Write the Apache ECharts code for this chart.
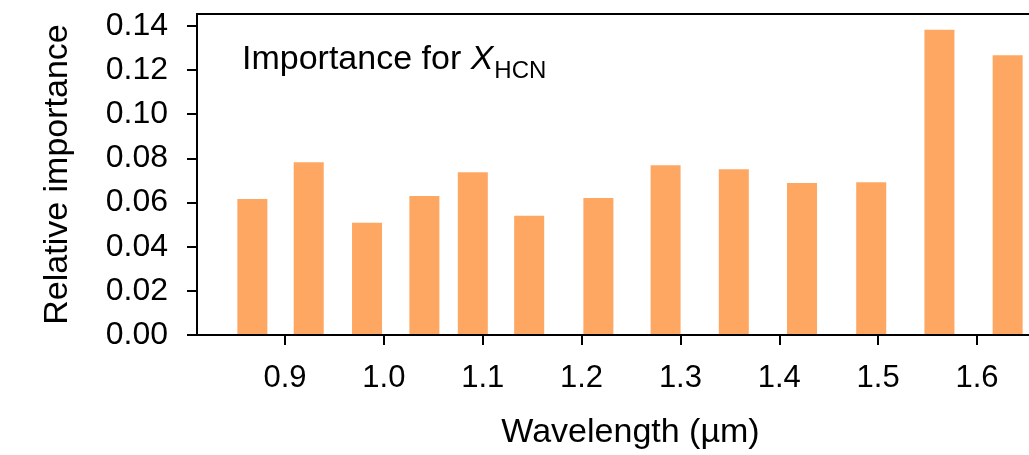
<!DOCTYPE html>
<html>
<head>
<meta charset="utf-8">
<script src="https://cdn.jsdelivr.net/npm/echarts@6/dist/echarts.min.js"></script>
<style>
  html, body { margin: 0; padding: 0; background: #fff; overflow: hidden; width: 1029px; height: 455px; }
  /* the axes box runs past the right edge of the page, so the canvas is wider than the window */
  #chart { width: 1080px; height: 455px; }
</style>
</head>
<body>
<div id="chart"></div>
<script>
// Spectral bin centres (µm) and the relative importance of each bin
const wavelengths = [0.867, 0.924, 0.983, 1.041, 1.090, 1.147, 1.217, 1.285, 1.354, 1.423, 1.493, 1.562, 1.631];
const importance  = [0.0616, 0.0782, 0.0508, 0.0630, 0.0737, 0.0540, 0.0621, 0.0769, 0.0751, 0.0688, 0.0692, 0.1383, 0.1267];

// Tick values for both axes
const xTicks = [0.9, 1.0, 1.1, 1.2, 1.3, 1.4, 1.5, 1.6];
const yTicks = [0.00, 0.02, 0.04, 0.06, 0.08, 0.10, 0.12, 0.14];

const FONT = '"Liberation Sans", Arial, Helvetica, sans-serif';
const INK = '#000000';
const BAR = '#fea762';

const chart = echarts.init(document.getElementById('chart'), null, { renderer: 'canvas' });

const axisLineStyle = { color: INK, width: 2 };

chart.setOption({
  animation: false,
  backgroundColor: '#ffffff',
  title: {
    left: 237,
    top: 38,
    text: '{a|Importance for }{x|X}{s|HCN}',
    textStyle: {
      fontWeight: 'normal',
      rich: {
        a: { fontFamily: FONT, fontSize: 34, fontWeight: 'normal', color: INK, lineHeight: 40, verticalAlign: 'top' },
        x: { fontFamily: FONT, fontSize: 34, fontWeight: 'normal', fontStyle: 'italic', color: INK, lineHeight: 40, verticalAlign: 'top' },
        s: { fontFamily: FONT, fontSize: 24, fontWeight: 'normal', color: INK, lineHeight: 24, verticalAlign: 'bottom', padding: [20, 0, 0, 1] }
      }
    }
  },
  grid: { left: 197, top: 14, width: 867, height: 324.5, containLabel: false },
  xAxis: [
    {
      type: 'value',
      position: 'bottom',
      min: 0.811,
      max: 1.688,
      z: 5,
      name: 'Wavelength (µm)',
      nameLocation: 'middle',
      nameGap: 81,
      nameTextStyle: { fontFamily: FONT, fontSize: 34, color: INK },
      splitLine: { show: false },
      axisLine: { show: true, onZero: false, lineStyle: axisLineStyle },
      axisTick: { show: true, inside: false, length: 10, lineStyle: { color: INK, width: 2 }, customValues: xTicks },
      axisLabel: {
        show: true, margin: 28, fontFamily: FONT, fontSize: 31, color: INK,
        customValues: xTicks,
        formatter: v => v.toFixed(1)
      }
    },
    {
      // top frame line
      type: 'value',
      position: 'top',
      min: 0.811,
      max: 1.688,
      z: 5,
      splitLine: { show: false },
      axisLine: { show: true, onZero: false, lineStyle: axisLineStyle },
      axisTick: { show: false },
      axisLabel: { show: false }
    }
  ],
  yAxis: {
    type: 'value',
    min: 0,
    max: 0.1454,
    z: 5,
    name: 'Relative importance',
    nameLocation: 'middle',
    nameRotate: 90,
    nameGap: 122,
    nameTextStyle: { fontFamily: FONT, fontSize: 34, color: INK },
    splitLine: { show: false },
    axisLine: { show: true, onZero: false, lineStyle: axisLineStyle },
    axisTick: { show: true, inside: false, length: 10, lineStyle: { color: INK, width: 2 }, customValues: yTicks },
    axisLabel: {
      show: true, margin: 29, fontFamily: FONT, fontSize: 32, color: INK,
      customValues: yTicks,
      formatter: v => v.toFixed(2)
    }
  },
  series: [
    {
      type: 'bar',
      xAxisIndex: 0,
      barWidth: 30,
      itemStyle: { color: BAR },
      data: wavelengths.map((w, i) => [w, importance[i]])
    }
  ]
});
</script>
</body>
</html>
